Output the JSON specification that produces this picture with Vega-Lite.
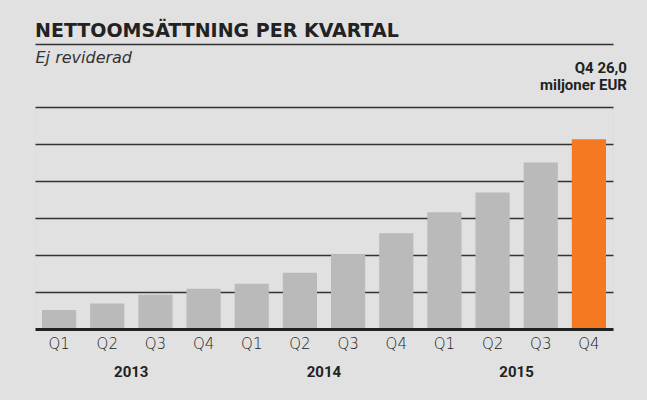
{
  "$schema": "https://vega.github.io/schema/vega-lite/v6.json",
  "width": 578,
  "height": 222,
  "autosize": "none",
  "padding": {"left": 35, "top": 107, "right": 34, "bottom": 71},
  "background": "#e1e1e1",
  "title": {
    "text": "NETTOOMSÄTTNING PER KVARTAL",
    "anchor": "start",
    "frame": "group",
    "font": "DejaVu Sans",
    "fontSize": 19,
    "fontWeight": "bold",
    "color": "#222222",
    "offset": 3
  },
  "data": {
    "values": [
      {"key": "2013 Q1", "year": "2013", "q": "Q1", "value": 2.6, "hl": "no"},
      {"key": "2013 Q2", "year": "2013", "q": "Q2", "value": 3.5, "hl": "no"},
      {"key": "2013 Q3", "year": "2013", "q": "Q3", "value": 4.7, "hl": "no"},
      {"key": "2013 Q4", "year": "2013", "q": "Q4", "value": 5.5, "hl": "no"},
      {"key": "2014 Q1", "year": "2014", "q": "Q1", "value": 6.2, "hl": "no"},
      {"key": "2014 Q2", "year": "2014", "q": "Q2", "value": 7.7, "hl": "no"},
      {"key": "2014 Q3", "year": "2014", "q": "Q3", "value": 10.2, "hl": "no"},
      {"key": "2014 Q4", "year": "2014", "q": "Q4", "value": 13.1, "hl": "no"},
      {"key": "2015 Q1", "year": "2015", "q": "Q1", "value": 16.0, "hl": "no"},
      {"key": "2015 Q2", "year": "2015", "q": "Q2", "value": 18.7, "hl": "no"},
      {"key": "2015 Q3", "year": "2015", "q": "Q3", "value": 22.8, "hl": "no"},
      {"key": "2015 Q4", "year": "2015", "q": "Q4", "value": 26.0, "hl": "yes"}
    ]
  },
  "layer": [
    {
      "mark": {"type": "bar"},
      "encoding": {
        "x": {
          "field": "key",
          "type": "nominal",
          "sort": null,
          "scale": {
            "domain": ["2013 Q1","2013 Q2","2013 Q3","2013 Q4","2014 Q1","2014 Q2","2014 Q3","2014 Q4","2015 Q1","2015 Q2","2015 Q3","2015 Q4"],
            "paddingInner": 0.29,
            "paddingOuter": 0.145
          },
          "axis": {
            "orient": "bottom",
            "title": null,
            "labelExpr": "split(datum.value, ' ')[1]",
            "labelAngle": 0,
            "labelFont": "DejaVu Sans",
            "labelFontWeight": 200,
            "labelFontSize": 15,
            "labelColor": "#1a1a1a",
            "labelPadding": 7,
            "ticks": false,
            "tickSize": 0,
            "domainColor": "#222222",
            "domainWidth": 3,
            "grid": false,
            "zindex": 1
          }
        },
        "y": {
          "field": "value",
          "type": "quantitative",
          "scale": {"domain": [0, 30.4], "nice": false, "zero": true},
          "axis": {
            "title": null,
            "labels": false,
            "ticks": false,
            "domain": false,
            "grid": true,
            "values": [5.0667, 10.1333, 15.2, 20.2667, 25.3333, 30.4],
            "gridColor": "#333333",
            "gridWidth": 1.5
          }
        },
        "color": {
          "field": "hl",
          "type": "nominal",
          "scale": {"domain": ["no", "yes"], "range": ["#bababa", "#f47920"]},
          "legend": null
        }
      }
    },
    {
      "transform": [{"filter": "datum.hl == 'yes'"}],
      "mark": {
        "type": "text",
        "align": "right",
        "baseline": "alphabetic",
        "dx": 38,
        "dy": -34,
        "font": "Roboto",
        "fontWeight": "bold",
        "fontSize": 15,
        "lineHeight": 17,
        "color": "#222222"
      },
      "encoding": {
        "x": {
          "field": "key",
          "type": "nominal",
          "sort": null,
          "axis": {
            "orient": "top",
            "labels": false,
            "ticks": false,
            "grid": false,
            "domain": true,
            "domainColor": "#333333",
            "domainWidth": 1.5,
            "offset": 63,
            "title": "Ej reviderad",
            "titleFont": "DejaVu Sans",
            "titleFontStyle": "italic",
            "titleFontWeight": "normal",
            "titleFontSize": 16,
            "titleColor": "#333333",
            "titleAlign": "left",
            "titleAnchor": "start",
            "titleBaseline": "alphabetic",
            "titleX": 0,
            "titleY": 18
          }
        },
        "y": {"datum": 30.4, "type": "quantitative"},
        "text": {"value": ["Q4 26,0", "miljoner EUR"]}
      }
    },
    {
      "transform": [{"filter": "datum.q == 'Q2'"}],
      "mark": {
        "type": "text",
        "align": "center",
        "baseline": "alphabetic",
        "dx": 24,
        "dy": 48,
        "font": "Roboto",
        "fontWeight": "bold",
        "fontSize": 15,
        "color": "#222222"
      },
      "encoding": {
        "x": {"field": "key", "type": "nominal", "sort": null, "axis": null},
        "y": {"datum": 0, "type": "quantitative"},
        "text": {"field": "year"}
      }
    }
  ],
  "resolve": {"axis": {"x": "independent"}}
}
